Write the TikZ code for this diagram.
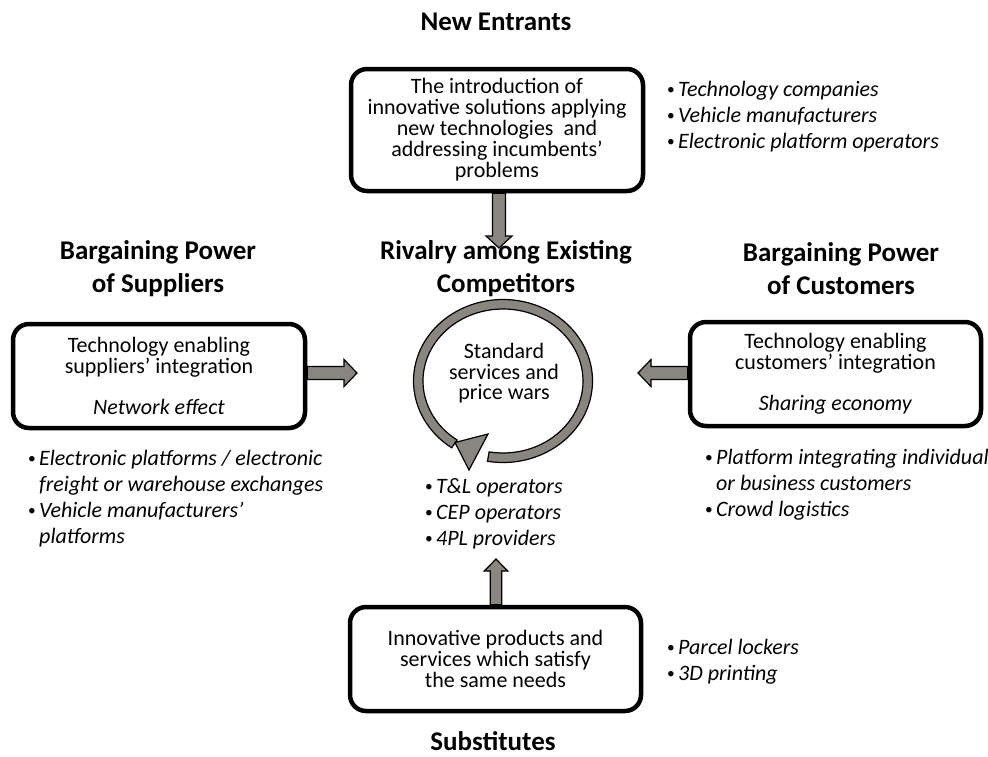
\documentclass[tikz,border=0pt]{standalone}
\usepackage{fontspec}
\setmainfont{Carlito}
\usetikzlibrary{calc, positioning}
\definecolor{arrowgray}{RGB}{137,134,128}

\newcommand{\itm}[1]{\makebox[11pt][l]{\raisebox{1.5pt}{\scalebox{0.7}{\textbullet}}}\textit{#1}}
\newcommand{\cnt}[1]{\hspace*{11pt}\textit{#1}}

\begin{document}
\begin{tikzpicture}[
    x=1pt, y=-1pt,
    force/.style={draw, rounded corners=16pt, line width=4.5pt, fill=white, align=center, font=\fontsize{22}{21}\selectfont},
    title/.style={align=center, font=\fontsize{27}{33}\selectfont\bfseries},
    body/.style={align=center, font=\fontsize{22}{20.5}\selectfont},
    bullets/.style={align=left, anchor=north west, inner sep=0pt, font=\fontsize{22}{26}\selectfont},
    blockarrow/.style n args={3}{fill=arrowgray, draw=black, line width=1.2pt, line join=miter,
        to path={
            ($(\tikztostart)!#1!90:(\tikztotarget)$)
            -- ($($(\tikztotarget)!#3!(\tikztostart)$)!#1!90:(\tikztotarget)$)
            -- ($($(\tikztotarget)!#3!(\tikztostart)$)!#2!90:(\tikztotarget)$)
            -- (\tikztotarget)
            -- ($($(\tikztotarget)!#3!(\tikztostart)$)!#2!-90:(\tikztotarget)$)
            -- ($($(\tikztotarget)!#3!(\tikztostart)$)!#1!-90:(\tikztotarget)$)
            -- ($(\tikztostart)!#1!-90:(\tikztotarget)$)
            -- cycle}},
    ringarrow/.style={fill=arrowgray, draw=black, line width=1.2pt, line join=miter}
]
\useasboundingbox (0,0) rectangle (988,756);

% the five forces
\node[title] (entrantsT) at (496,22) {New Entrants};
\node[force, minimum width=292pt, minimum height=122pt] (entrants) at (497,130)
    {The introduction of\\innovative solutions applying\\new technologies\ \ and\\addressing incumbents’\\problems};
\node[bullets] (entrantsL) at (667,81)
    {\itm{Technology companies}\\\itm{Vehicle manufacturers}\\\itm{Electronic platform operators}};

\node[title] (suppliersT) at (158,268.5) {Bargaining Power\\of Suppliers};
\node[force, minimum width=292pt, minimum height=104pt] (suppliers) at (159,376)
    {Technology enabling\\suppliers’ integration\\[20pt]\textit{Network effect}};
\node[bullets] (suppliersL) at (28,450)
    {\itm{Electronic platforms / electronic}\\\cnt{freight or warehouse exchanges}\\\itm{Vehicle manufacturers’}\\\cnt{platforms}};

\node[title] (rivalryT) at (506,268.5) {Rivalry among Existing\\Competitors};
\coordinate (ring) at (503,381);
\node[body] (rivalry) at (504,373.5) {Standard\\services and\\price wars};
\node[bullets] (rivalryL) at (425,478)
    {\itm{T\&L operators}\\\itm{CEP operators}\\\itm{4PL providers}};

\node[title] (customersT) at (841,268.5) {Bargaining Power\\of Customers};
\node[force, minimum width=291pt, minimum height=104pt] (customers) at (835.5,374)
    {Technology enabling\\customers’ integration\\[20pt]\textit{Sharing economy}};
\node[bullets] (customersL) at (705,449)
    {\itm{Platform integrating individual}\\\cnt{or business customers}\\\itm{Crowd logistics}};

\node[force, minimum width=291pt, minimum height=104pt] (substitutes) at (495.5,659)
    {Innovative products and\\services which satisfy\\the same needs};
\node[bullets] (substitutesL) at (667,639)
    {\itm{Parcel lockers}\\\itm{3D printing}};
\node[title] (substitutesT) at (493,741) {Substitutes};

% circular arrow
\draw[ringarrow] ($(ring)+(100:89.5 and 81.5)$) arc[start angle=100, end angle=-235, x radius=89.5, y radius=81.5]
    -- ($(ring)+(-235:80 and 72)$) arc[start angle=-235, end angle=100, x radius=80, y radius=72] -- cycle;
\draw[ringarrow] ($(ring)+(-48,61.5)$) -- ($(ring)+(-15,53)$) -- ($(ring)+(-34,89)$) -- cycle;

% block arrows
\coordinate (dtip) at (499,248);
\coordinate (ltip) at (357,373);
\coordinate (rtip) at (638,373);
\coordinate (utip) at (496,559);
\draw[blockarrow={6.5pt}{13pt}{12pt}] (entrants.south -| dtip) to (dtip);
\draw[blockarrow={6.5pt}{13.5pt}{13pt}] (suppliers.east |- ltip) to (ltip);
\draw[blockarrow={6.5pt}{13.5pt}{13pt}] (customers.west |- rtip) to (rtip);
\draw[blockarrow={5.75pt}{11.7pt}{12pt}] (substitutes.north -| utip) to (utip);
\end{tikzpicture}
\end{document}
